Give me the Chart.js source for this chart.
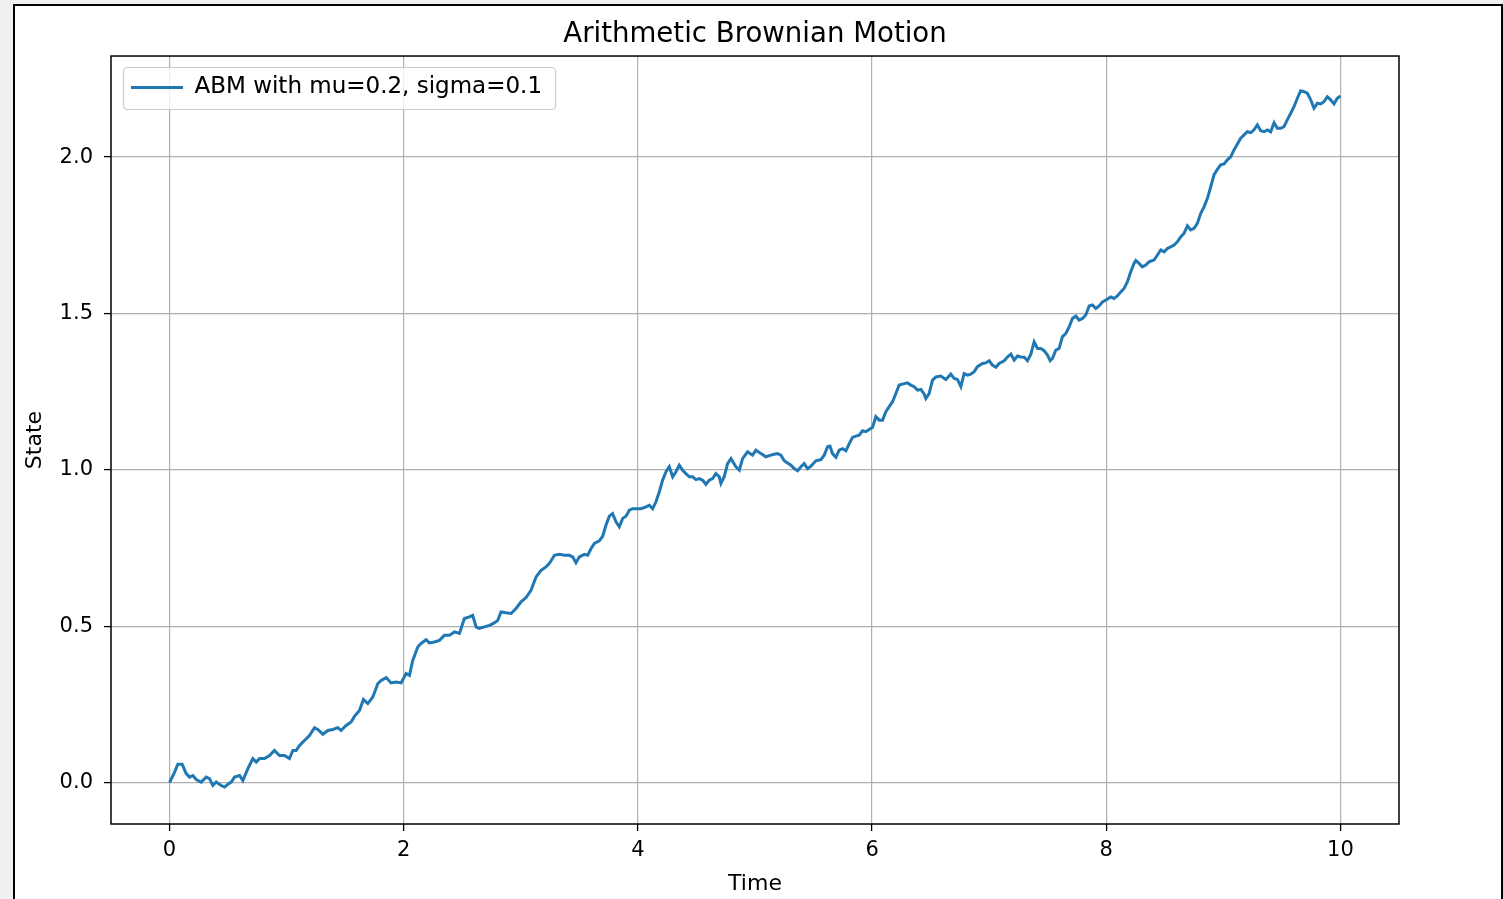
<!DOCTYPE html>
<html lang="en">
<head>
<meta charset="utf-8">
<title>Arithmetic Brownian Motion</title>
<script src="https://cdn.jsdelivr.net/npm/chart.js@4.4.1/dist/chart.umd.min.js"></script>
<style>
    html, body {
        margin: 0;
        padding: 0;
        background: #f0f0f0;
        overflow: hidden;
    }
    .frame {
        position: absolute;
        left: 13px;
        top: 4px;
        width: 1486px;
        height: 1000px;
        border: 2px solid #000;
        background: #fff;
    }
    #abmChart {
        position: absolute;
        left: 0;
        top: 0;
    }
</style>
</head>
<body>
<div class="frame"></div>
<canvas id="abmChart" width="1503" height="899"></canvas>

<script>
// Data
const chartTitle = 'Arithmetic Brownian Motion';
const seriesLabel = 'ABM with mu=0.2, sigma=0.1';
const xAxisLabel = 'Time';
const yAxisLabel = 'State';

const xTicks = [0, 2, 4, 6, 8, 10];
const yTicks = [0.0, 0.5, 1.0, 1.5, 2.0];

const times = [
    0, 0.043, 0.071, 0.108, 0.142, 0.171, 0.199, 0.228, 0.270, 0.313,
    0.341, 0.370, 0.398, 0.441, 0.470, 0.498, 0.527, 0.555, 0.598, 0.626,
    0.669, 0.711, 0.740, 0.768, 0.811, 0.854, 0.896, 0.939, 0.982, 1.024,
    1.053, 1.081, 1.110, 1.152, 1.195, 1.238, 1.266, 1.309, 1.352, 1.394,
    1.437, 1.465, 1.508, 1.551, 1.579, 1.622, 1.656, 1.693, 1.736, 1.779,
    1.807, 1.850, 1.892, 1.935, 1.978, 2.020, 2.049, 2.077, 2.120, 2.148,
    2.191, 2.219, 2.262, 2.305, 2.347, 2.390, 2.433, 2.476, 2.518, 2.561,
    2.589, 2.618, 2.646, 2.689, 2.732, 2.774, 2.803, 2.831, 2.874, 2.917,
    2.959, 3.002, 3.045, 3.087, 3.130, 3.173, 3.215, 3.244, 3.287, 3.329,
    3.372, 3.414, 3.443, 3.471, 3.500, 3.542, 3.571, 3.599, 3.628, 3.670,
    3.699, 3.727, 3.756, 3.784, 3.813, 3.841, 3.870, 3.898, 3.927, 3.955,
    3.984, 4.026, 4.069, 4.097, 4.126, 4.154, 4.183, 4.211, 4.240, 4.268,
    4.297, 4.325, 4.353, 4.382, 4.410, 4.439, 4.467, 4.496, 4.524, 4.553,
    4.581, 4.609, 4.638, 4.666, 4.695, 4.709, 4.737, 4.766, 4.795, 4.837,
    4.866, 4.894, 4.937, 4.979, 5.008, 5.051, 5.093, 5.136, 5.164, 5.193,
    5.221, 5.250, 5.278, 5.307, 5.335, 5.364, 5.392, 5.420, 5.449, 5.478,
    5.520, 5.563, 5.591, 5.620, 5.640, 5.662, 5.691, 5.719, 5.748, 5.776,
    5.805, 5.833, 5.862, 5.890, 5.918, 5.947, 5.975, 6.004, 6.032, 6.061,
    6.089, 6.118, 6.146, 6.175, 6.203, 6.231, 6.260, 6.302, 6.331, 6.359,
    6.388, 6.417, 6.445, 6.459, 6.487, 6.516, 6.545, 6.587, 6.630, 6.672,
    6.701, 6.729, 6.758, 6.786, 6.815, 6.843, 6.872, 6.900, 6.943, 6.971,
    7.000, 7.028, 7.057, 7.085, 7.128, 7.156, 7.185, 7.213, 7.242, 7.270,
    7.299, 7.327, 7.356, 7.384, 7.413, 7.441, 7.469, 7.498, 7.521, 7.540,
    7.569, 7.597, 7.626, 7.654, 7.683, 7.711, 7.740, 7.768, 7.797, 7.825,
    7.854, 7.882, 7.911, 7.939, 7.968, 7.996, 8.039, 8.066, 8.095, 8.124,
    8.152, 8.180, 8.209, 8.237, 8.252, 8.280, 8.308, 8.337, 8.365, 8.408,
    8.437, 8.465, 8.494, 8.522, 8.550, 8.579, 8.607, 8.636, 8.664, 8.693,
    8.721, 8.750, 8.778, 8.807, 8.835, 8.864, 8.892, 8.920, 8.949, 8.977,
    9.006, 9.034, 9.063, 9.091, 9.120, 9.148, 9.177, 9.205, 9.234, 9.262,
    9.290, 9.319, 9.347, 9.376, 9.404, 9.433, 9.461, 9.490, 9.518, 9.546,
    9.575, 9.603, 9.632, 9.660, 9.689, 9.717, 9.746, 9.774, 9.803, 9.831,
    9.859, 9.888, 9.916, 9.945, 9.973, 10.0
];

const states = [
    0.000, 0.034, 0.059, 0.059, 0.029, 0.018, 0.023, 0.010, 0.002, 0.018,
    0.013, -0.009, 0.002, -0.009, -0.014, -0.005, 0.002, 0.018, 0.023, 0.007,
    0.045, 0.077, 0.066, 0.077, 0.077, 0.087, 0.103, 0.087, 0.087, 0.077,
    0.103, 0.103, 0.119, 0.135, 0.151, 0.176, 0.170, 0.155, 0.167, 0.170,
    0.176, 0.167, 0.183, 0.194, 0.212, 0.231, 0.266, 0.253, 0.274, 0.317,
    0.327, 0.336, 0.319, 0.322, 0.319, 0.349, 0.343, 0.391, 0.434, 0.445,
    0.457, 0.447, 0.450, 0.455, 0.471, 0.471, 0.482, 0.477, 0.525, 0.530,
    0.535, 0.498, 0.493, 0.498, 0.503, 0.511, 0.519, 0.546, 0.543, 0.541,
    0.557, 0.578, 0.592, 0.615, 0.658, 0.679, 0.690, 0.701, 0.727, 0.730,
    0.727, 0.727, 0.722, 0.703, 0.722, 0.730, 0.727, 0.748, 0.765, 0.773,
    0.788, 0.823, 0.852, 0.860, 0.834, 0.818, 0.845, 0.852, 0.871, 0.876,
    0.876, 0.876, 0.882, 0.887, 0.876, 0.898, 0.930, 0.967, 0.994, 1.010,
    0.978, 0.994, 1.015, 0.999, 0.988, 0.978, 0.978, 0.969, 0.972, 0.967,
    0.954, 0.967, 0.972, 0.988, 0.978, 0.957, 0.978, 1.020, 1.036, 1.010,
    0.999, 1.036, 1.058, 1.047, 1.063, 1.052, 1.042, 1.047, 1.050, 1.052,
    1.047, 1.029, 1.022, 1.015, 1.004, 0.997, 1.010, 1.020, 1.004, 1.012,
    1.029, 1.033, 1.047, 1.074, 1.076, 1.052, 1.040, 1.063, 1.068, 1.061,
    1.084, 1.104, 1.108, 1.111, 1.125, 1.122, 1.129, 1.136, 1.170, 1.159,
    1.159, 1.186, 1.202, 1.218, 1.244, 1.271, 1.274, 1.278, 1.271, 1.266,
    1.255, 1.257, 1.242, 1.228, 1.244, 1.287, 1.297, 1.300, 1.289, 1.306,
    1.292, 1.289, 1.266, 1.308, 1.303, 1.306, 1.314, 1.330, 1.340, 1.342,
    1.349, 1.335, 1.328, 1.340, 1.349, 1.361, 1.370, 1.351, 1.364, 1.361,
    1.360, 1.349, 1.370, 1.409, 1.388, 1.388, 1.381, 1.367, 1.349, 1.356,
    1.383, 1.388, 1.426, 1.436, 1.457, 1.484, 1.492, 1.479, 1.484, 1.495,
    1.524, 1.527, 1.516, 1.524, 1.537, 1.543, 1.553, 1.548, 1.556, 1.569,
    1.580, 1.601, 1.633, 1.660, 1.669, 1.660, 1.649, 1.655, 1.665, 1.671,
    1.687, 1.703, 1.697, 1.708, 1.713, 1.719, 1.729, 1.745, 1.756, 1.780,
    1.767, 1.772, 1.788, 1.820, 1.841, 1.868, 1.905, 1.943, 1.961, 1.975,
    1.978, 1.991, 2.001, 2.023, 2.042, 2.060, 2.071, 2.081, 2.078, 2.087,
    2.103, 2.084, 2.081, 2.087, 2.081, 2.110, 2.092, 2.092, 2.097, 2.119,
    2.140, 2.161, 2.188, 2.212, 2.209, 2.204, 2.183, 2.156, 2.172, 2.170,
    2.177, 2.193, 2.183, 2.170, 2.188, 2.195
];

let abmChart;

document.addEventListener('DOMContentLoaded', function() {
    Chart.defaults.font.family = "'DejaVu Sans', sans-serif";
    Chart.defaults.color = '#000';
    createAbmChart();
});

// Four black spines round the axes, like matplotlib
const axesFramePlugin = {
    id: 'axesFrame',
    afterDatasetsDraw(chart) {
        const { ctx, chartArea } = chart;
        ctx.save();
        ctx.strokeStyle = '#000';
        ctx.lineWidth = 1.5;
        ctx.strokeRect(chartArea.left, chartArea.top,
            chartArea.right - chartArea.left, chartArea.bottom - chartArea.top);
        ctx.restore();
    }
};

// Pin the legend to the upper left corner of the plot and give it a box
const legendFramePlugin = {
    id: 'legendFrame',
    beforeDraw(chart) {
        const legend = chart.legend;
        if (!legend) return;
        legend.left = chart.chartArea.left;
        legend.top = chart.chartArea.top;
    },
    afterDraw(chart) {
        const legend = chart.legend;
        if (!legend || !legend.legendHitBoxes || !legend.legendHitBoxes.length) return;
        const hb = legend.legendHitBoxes[0];
        const pad = legend.options.labels.padding;
        const { ctx } = chart;
        const x = legend.left + pad - 8;
        const y = legend.top + pad - 9;
        const w = hb.width + 21;
        const h = hb.height + 19;
        ctx.save();
        ctx.beginPath();
        ctx.roundRect(x + 0.5, y + 0.5, w, h, 4);
        ctx.fillStyle = 'rgba(255, 255, 255, 0.8)';
        ctx.fill();
        ctx.strokeStyle = '#cccccc';
        ctx.lineWidth = 1.2;
        ctx.stroke();
        ctx.restore();
        legend.draw();
    }
};

function createAbmChart() {
    const ctx = document.getElementById('abmChart').getContext('2d');
    const points = times.map((t, i) => ({ x: t, y: states[i] }));

    abmChart = new Chart(ctx, {
        type: 'line',
        data: {
            datasets: [{
                label: seriesLabel,
                data: points,
                borderColor: '#1f77b4',
                backgroundColor: '#1f77b4',
                borderWidth: 3,
                pointRadius: 0,
                tension: 0,
                fill: false
            }]
        },
        options: {
            responsive: false,
            animation: false,
            layout: {
                padding: { left: 18, right: 104, top: 0, bottom: 0 }
            },
            plugins: {
                title: {
                    display: true,
                    fullSize: false,
                    text: chartTitle,
                    color: '#000',
                    font: { size: 27.6, weight: 'normal' },
                    padding: { top: 18, bottom: 4.9 }
                },
                legend: {
                    display: true,
                    position: 'chartArea',
                    align: 'start',
                    labels: {
                        color: '#000',
                        font: { size: 23 },
                        usePointStyle: true,
                        pointStyle: 'line',
                        pointStyleWidth: 52,
                        padding: 20
                    }
                },
                tooltip: { enabled: false }
            },
            scales: {
                x: {
                    type: 'linear',
                    min: -0.5,
                    max: 10.5,
                    afterBuildTicks: axis => { axis.ticks = xTicks.map(v => ({ value: v })); },
                    afterFit: scale => { scale.height = 75; },
                    grid: {
                        color: '#b0b0b0',
                        lineWidth: 1.2,
                        drawTicks: true,
                        tickLength: 7,
                        tickColor: '#000',
                        tickWidth: 1.3
                    },
                    border: { display: false },
                    ticks: {
                        font: { size: 21 },
                        color: '#000',
                        padding: 7,
                        maxRotation: 0,
                        callback: value => String(value)
                    },
                    title: {
                        display: true,
                        text: xAxisLabel,
                        color: '#000',
                        font: { size: 22 },
                        padding: { top: 0, bottom: 2 }
                    }
                },
                y: {
                    type: 'linear',
                    min: -0.132,
                    max: 2.323,
                    afterBuildTicks: axis => { axis.ticks = yTicks.map(v => ({ value: v })); },
                    afterFit: scale => { scale.width = 93; },
                    grid: {
                        color: '#b0b0b0',
                        lineWidth: 1.2,
                        drawTicks: true,
                        tickLength: 7,
                        tickColor: '#000',
                        tickWidth: 1.3
                    },
                    border: { display: false },
                    ticks: {
                        font: { size: 21 },
                        color: '#000',
                        padding: 11,
                        callback: value => value.toFixed(1)
                    },
                    title: {
                        display: true,
                        text: yAxisLabel,
                        color: '#000',
                        font: { size: 22 },
                        padding: { top: 4, bottom: 0 }
                    }
                }
            }
        },
        plugins: [axesFramePlugin, legendFramePlugin]
    });
}
</script>
</body>
</html>
